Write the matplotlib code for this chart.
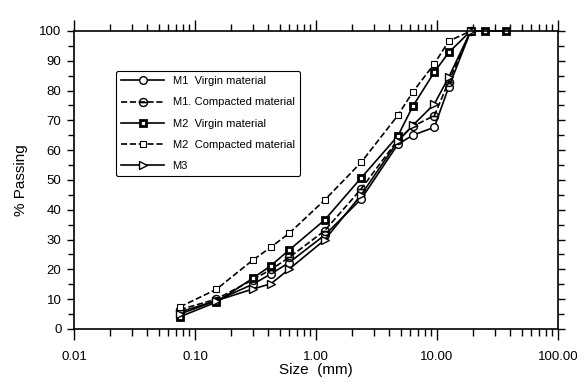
import numpy as np
import matplotlib.pyplot as plt
from matplotlib.ticker import FixedLocator, NullFormatter

plt.rcParams['font.family'] = ['Liberation Sans', 'DejaVu Sans']

# sieve sizes (mm)
sizes = [0.075, 0.15, 0.3, 0.425, 0.6, 1.18, 2.36, 4.75, 6.3, 9.5, 12.5, 19, 25, 37.5]

m1_virgin = [5.7, 9.5, 15, 18.5, 22.3, 31.5, 43.6, 62, 65, 67.7, 81.2, 100]
m1_compact = [6.5, 10, 16.5, 20, 24, 33, 47, 63.5, 68, 71.6, 83, 100]
m2_virgin = [4.1, 9, 17, 21.3, 26.5, 36.6, 50.7, 64.8, 74.7, 86.2, 92.8, 100, 100, 100]
m2_compact = [7.4, 13.3, 23.1, 27.5, 32.1, 43.3, 55.9, 71.7, 79.5, 89, 96.6, 100]
m3 = [5, 9.5, 13.4, 15.2, 20.1, 29.9, 45, 63, 68.3, 75.5, 84.5, 100]

labels = ['M1  Virgin material', 'M1. Compacted material', 'M2  Virgin material',
          'M2  Compacted material', 'M3']

fig = plt.figure(figsize=(5.85, 3.85), dpi=100)
ax = fig.add_axes([0.1265, 0.1455, 0.8274, 0.774])

kw = dict(color='black', lw=1.2, clip_on=False)
ax.plot(sizes[:len(m1_virgin)], m1_virgin, '-', marker='o', ms=5.5, mfc='white', mew=1.0,
        label=labels[0], **kw)
ax.plot(sizes[:len(m1_compact)], m1_compact, '--', marker=r'$\ominus$', ms=6.5, mew=0.3,
        label=labels[1], **kw)
ax.plot(sizes[:len(m2_virgin)], m2_virgin, '-', marker='s', ms=5, mfc='white', mew=2.0,
        label=labels[2], **kw)
ax.plot(sizes[:len(m2_compact)], m2_compact, '--', marker='s', ms=5, mfc='white', mew=0.8,
        label=labels[3], **kw)
ax.plot(sizes[:len(m3)], m3, '-', marker='>', ms=5.5, mfc='white', mew=1.0,
        label=labels[4], **kw)

ax.set_xscale('log')
ax.set_xlim(0.01, 100)
ax.set_ylim(0, 100)

majors = [0.01, 0.1, 1, 10, 100]
minors = [m * 10.0 ** e for e in range(-2, 2) for m in range(2, 10)]
ax.xaxis.set_major_locator(FixedLocator(majors))
ax.xaxis.set_minor_locator(FixedLocator(minors))
ax.set_xticklabels(['0.01', '0.10', '1.00', '10.00', '100.00'])
ax.xaxis.set_minor_formatter(NullFormatter())

ax.set_yticks(np.arange(0, 101, 10))
ax.set_yticks(np.arange(5, 100, 10), minor=True)

ax.tick_params(axis='x', which='major', direction='out', length=8, width=1.0,
               top=True, labelsize=9.5, pad=8)
ax.tick_params(axis='x', which='minor', direction='out', length=5, width=1.0, top=True)
ax.tick_params(axis='y', which='major', direction='out', length=5, width=1.0,
               right=True, labelsize=9.5, pad=4)
ax.tick_params(axis='y', which='minor', direction='out', length=4, width=1.0, right=True)

for s in ax.spines.values():
    s.set_linewidth(1.2)

ax.set_xlabel('Size  (mm)', fontsize=11, labelpad=0)
ax.set_ylabel('% Passing', fontsize=11, labelpad=8)

leg = ax.legend(loc='upper left', bbox_to_anchor=(0.075, 0.885), fontsize=8,
                handlelength=3.8, fancybox=True, framealpha=1, edgecolor='black',
                borderpad=0.5, labelspacing=1.0)
leg.get_frame().set_linewidth(0.8)

fig.savefig('out.png', dpi=100)
